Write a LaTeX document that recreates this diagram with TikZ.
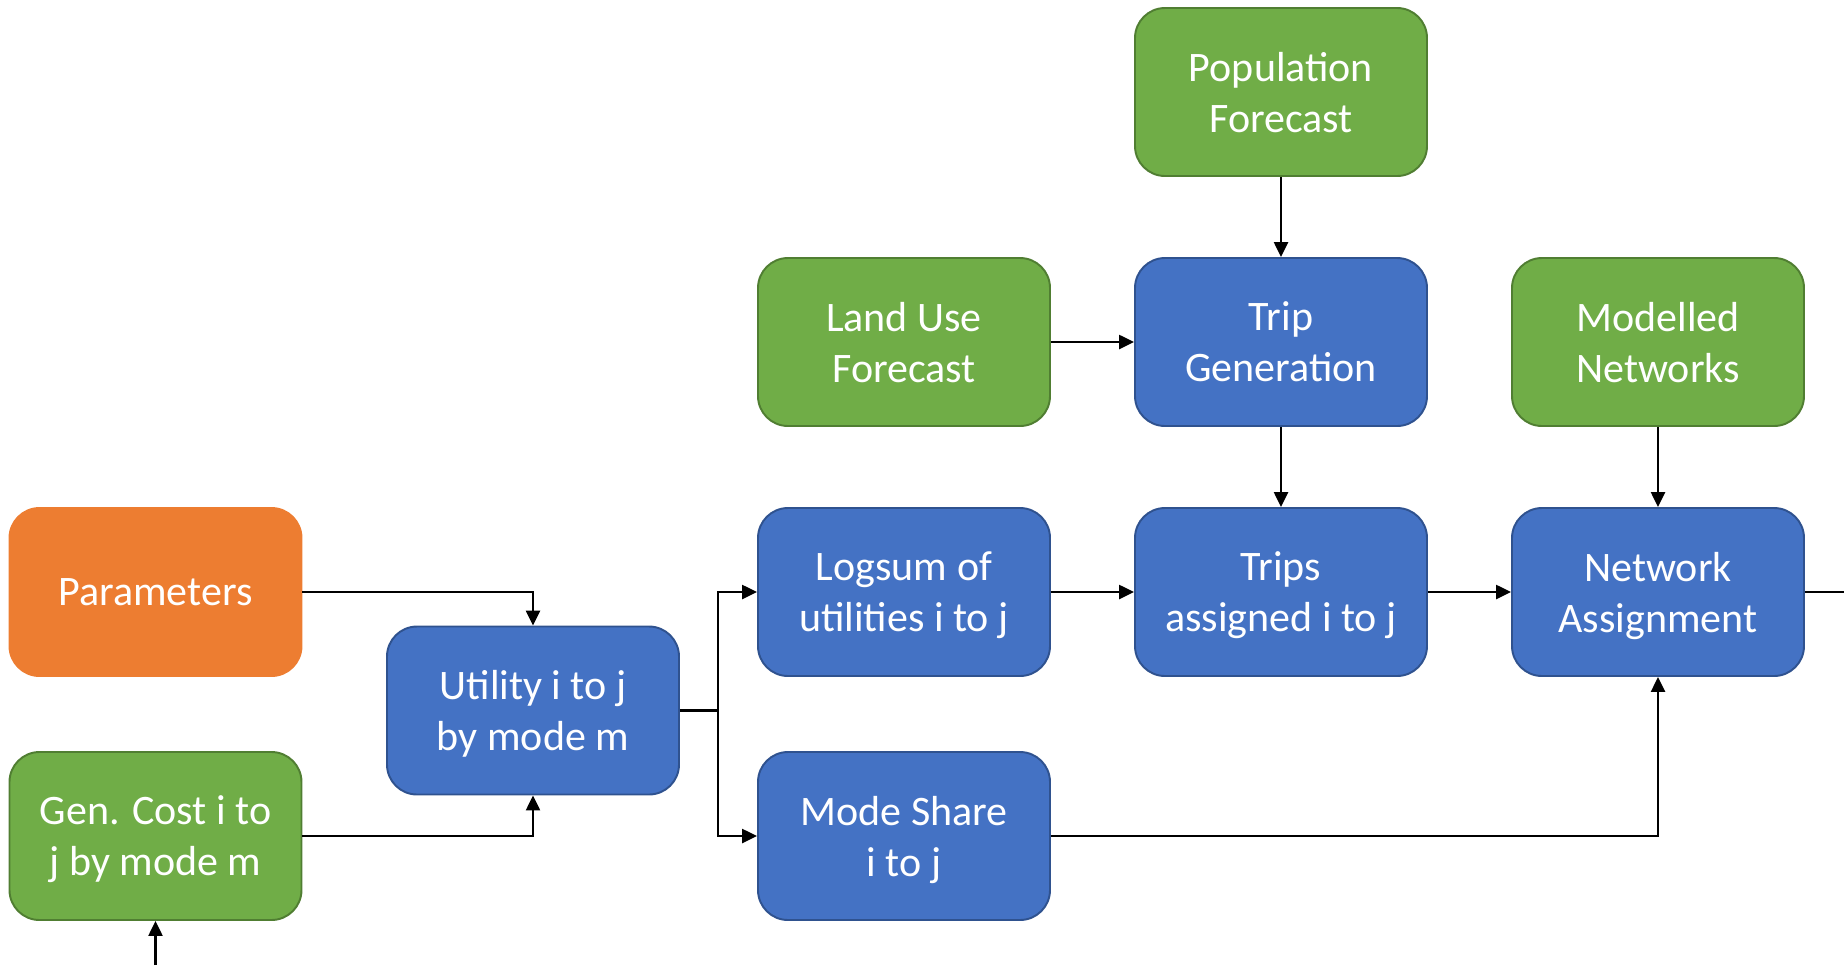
\documentclass[tikz,border=0pt]{standalone}
\usepackage{fontspec}
\setmainfont{Carlito}
\usepackage{tikz}
\usetikzlibrary{arrows.meta,positioning}

\definecolor{fcgreen}{HTML}{70AD47}
\definecolor{fcgreenline}{HTML}{507E32}
\definecolor{fcblue}{HTML}{4472C4}
\definecolor{fcblueline}{HTML}{2F528F}
\definecolor{fcorange}{HTML}{ED7D31}

\tikzset{
  box/.style={rounded corners=0.6cm, minimum width=5.84cm, minimum height=3.36cm,
    align=center, text=white, line width=1.1pt, text depth=0pt,
    font=\fontsize{23.9}{29}\selectfont},
  inbox/.style={box, fill=fcgreen, draw=fcgreenline},
  procbox/.style={box, fill=fcblue, draw=fcblueline},
  parbox/.style={box, fill=fcorange, draw=fcorange},
  arr/.style={line width=1.4pt, -{Triangle[length=0.3cm,width=0.28cm]}},
  wire/.style={line width=1.4pt}
}

\begin{document}
\begin{tikzpicture}[on grid, node distance=5cm and 7.54cm]
           \useasboundingbox (0,0) rectangle (36.88,-19.3);
           \node [procbox] (trips) at (25.62,-11.84) {Trips\\assigned i to j};
           \node [procbox, above=of trips] (tripgen) {Trip\\Generation};
           \node [inbox, above=of tripgen] (pop) {Population\\Forecast};
           \node [procbox, left=of trips] (logsum) {Logsum of\\utilities i to j};
           \node [inbox, above=of logsum] (landuse) {Land Use\\Forecast};
           \node [procbox, right=of trips] (netassign) {Network\\Assignment};
           \node [inbox, above=of netassign] (modelled) {Modelled\\Networks};
           \node [procbox, below=4.88cm of logsum] (modeshare) {Mode Share\\i to j};
           \node [parbox] (params) at (3.11,-11.84) {Parameters};
           \node [inbox, below=4.88cm of params] (gencost) {Gen. Cost i to\\j by mode m};
           \node [procbox] (utility) at (10.66,-14.21) {Utility i to j\\by mode m};
           \coordinate (split) at (14.36,-14.21);
           \coordinate (outR) at (36.88,-11.84);
           \coordinate (inB) at (3.11,-19.3);
           \draw [arr] (pop) -- (tripgen);
           \draw [arr] (landuse) -- (tripgen);
           \draw [arr] (tripgen) -- (trips);
           \draw [arr] (modelled) -- (netassign);
           \draw [arr] (logsum) -- (trips);
           \draw [arr] (trips) -- (netassign);
           \draw [arr] (params) -| (utility);
           \draw [arr] (gencost) -| (utility);
           \draw [wire] (utility) -- (split);
           \draw [arr] (split) |- (logsum);
           \draw [arr] (split) |- (modeshare);
           \draw [arr] (modeshare) -| (netassign);
           \draw [wire] (netassign) -- (outR);
           \draw [arr] (inB) -- (gencost);
      \end{tikzpicture}
\end{document}
